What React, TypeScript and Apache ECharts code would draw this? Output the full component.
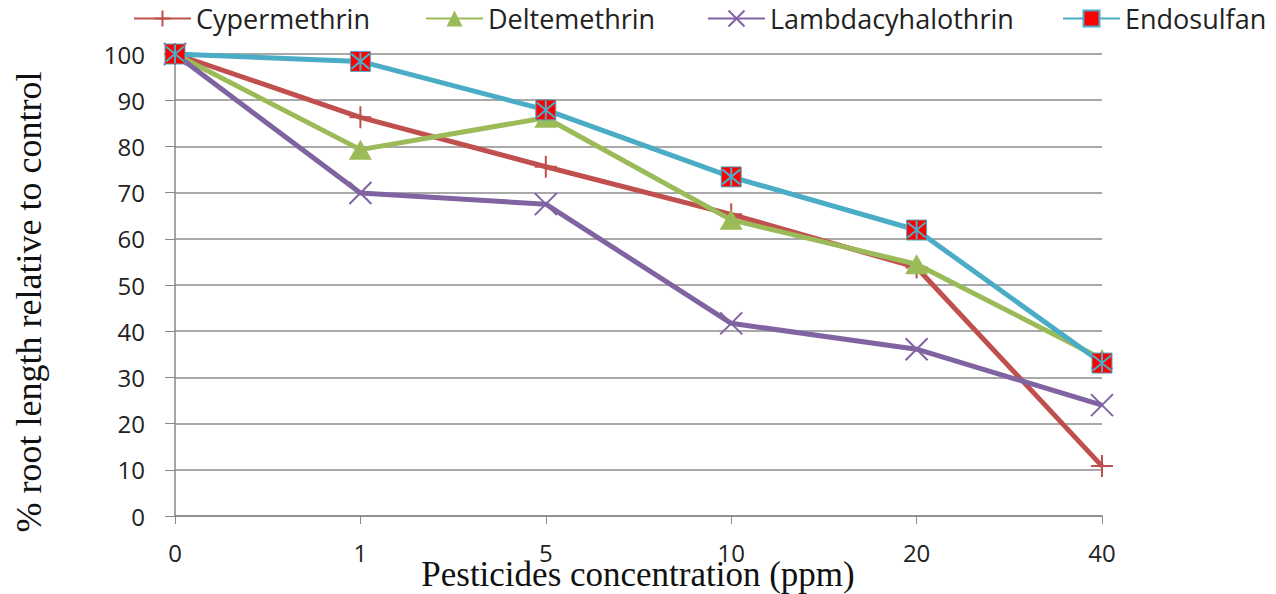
import React, { useEffect, useRef } from "react";
import * as echarts from "echarts";

const categories = ["0", "1", "5", "10", "20", "40"];
const cypermethrin = [100, 86.3, 75.6, 65.3, 53.8, 10.8];
const deltemethrin = [100, 79.3, 86.2, 64.1, 54.5, 34.0];
const lambdacyhalothrin = [100, 69.9, 67.5, 41.7, 36.1, 24.0];
const endosulfan = [100, 98.4, 87.9, 73.4, 61.9, 33.1];
const yTicks = { min: 0, max: 100, interval: 10 };
const seriesNames = ["Cypermethrin", "Deltemethrin", "Lambdacyhalothrin", "Endosulfan"];
const xTitle = "Pesticides concentration (ppm)";
const yTitle = "% root length relative to control";

const PLUS = "path://M0,-10 L0,10 M-10,0 L10,0";
const CROSS = "path://M-10,-10 L10,10 M-10,10 L10,-10";
const ASTER = "path://M-10,-10 L10,10 M-10,10 L10,-10 M0,-12 L0,12";

export default function App() {
  const ref = useRef<HTMLDivElement>(null);
  useEffect(() => {
    document.body.style.margin = "0";
    const chart = echarts.init(ref.current!, null, { renderer: "svg" });
    const labelFont = { fontFamily: "Open Sans", fontSize: 24, color: "#222" };
    const legendLefts = [128, 420, 702, 1057];
    const legends = seriesNames.map((n, i) => ({
      top: 0,
      left: legendLefts[i],
      itemWidth: 57,
      itemHeight: 20,
      textStyle: { fontFamily: "Open Sans", fontSize: 27, color: "#222" },
      data: [n],
    }));
    const titleStyle = { fontFamily: "Liberation Serif", fontSize: 36, fill: "#111" };
    chart.setOption({
      animation: false,
      backgroundColor: "#fff",
      grid: { left: 175, right: 174, top: 54, bottom: 78, containLabel: false, outerBoundsMode: "none" },
      legend: legends,
      graphic: [
        {
          type: "text",
          x: 638,
          y: 574,
          style: { ...titleStyle, fontSize: 35, text: xTitle, align: "center", verticalAlign: "middle" },
        },
        {
          type: "text",
          x: 29,
          y: 302,
          rotation: Math.PI / 2,
          style: { ...titleStyle, text: yTitle, align: "center", verticalAlign: "middle" },
        },
      ],
      xAxis: {
        type: "category",
        data: categories,
        boundaryGap: false,
        axisLine: { lineStyle: { color: "#888", width: 1.5 } },
        axisTick: { show: true, length: 8, lineStyle: { color: "#888" } },
        axisLabel: { ...labelFont, margin: 24 },
      },
      yAxis: {
        type: "value",
        min: yTicks.min,
        max: yTicks.max,
        interval: yTicks.interval,
        axisLine: { show: true, lineStyle: { color: "#888", width: 1.5 } },
        axisTick: { show: true, length: 10, lineStyle: { color: "#888" } },
        axisLabel: { ...labelFont, margin: 30 },
        splitLine: { lineStyle: { color: "#8c8c8c", width: 1.5 } },
      },
      series: [
        {
          name: seriesNames[0],
          type: "line",
          data: cypermethrin,
          symbol: PLUS,
          symbolSize: 22,
          lineStyle: { color: "#C0504D", width: 5 },
          itemStyle: { color: "transparent", borderColor: "#C0504D", borderWidth: 2 },
          z: 2,
        },
        {
          name: seriesNames[1],
          type: "line",
          data: deltemethrin,
          symbol: "triangle",
          symbolSize: [23, 20],
          lineStyle: { color: "#9BBB59", width: 5 },
          itemStyle: { color: "#9BBB59", borderWidth: 0 },
          z: 3,
        },
        {
          name: seriesNames[2],
          type: "line",
          data: lambdacyhalothrin,
          symbol: CROSS,
          symbolSize: 22,
          lineStyle: { color: "#8064A2", width: 5 },
          itemStyle: { color: "transparent", borderColor: "#8064A2", borderWidth: 2 },
          z: 4,
        },
        {
          name: seriesNames[3],
          type: "line",
          data: endosulfan,
          symbol: "rect",
          symbolSize: 20,
          lineStyle: { color: "#4BACC6", width: 5 },
          itemStyle: { color: "#FF0000", borderColor: "#4BACC6", borderWidth: 1 },
          z: 5,
        },
        {
          name: "Endosulfan-mark",
          type: "line",
          data: endosulfan,
          symbol: ASTER,
          symbolSize: 18,
          showSymbol: true,
          lineStyle: { width: 0, opacity: 0 },
          itemStyle: { color: "transparent", borderColor: "#4BACC6", borderWidth: 2 },
          z: 6,
          silent: true,
        },
      ],
    });
    return () => chart.dispose();
  }, []);
  return <div ref={ref} style={{ width: 1276, height: 594, position: "absolute", left: 0, top: 0 }} />;
}
